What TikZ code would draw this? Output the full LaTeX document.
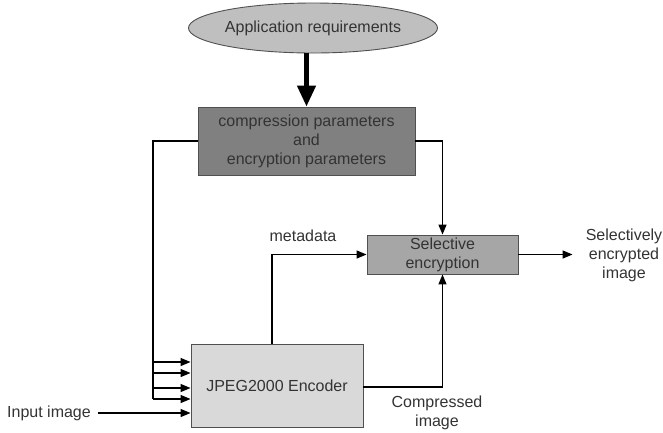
\documentclass[tikz,border=0pt]{standalone}
\usepackage{fontspec}
\setmainfont{Liberation Sans}
\usepackage{tikz}
\usetikzlibrary{arrows.meta,positioning,shapes.geometric}
\definecolor{txtgray}{HTML}{333333}
\definecolor{edgegray}{HTML}{505050}

\begin{document}
\begin{tikzpicture}[x=1pt, y=-1pt,
  every node/.style={font=\fontsize{16}{19}\selectfont, text=txtgray},
  box/.style={draw=edgegray, line width=0.9pt, align=center, inner sep=0pt},
  arr/.style={-{Triangle[length=10pt, width=8pt]}, line width=1.3pt},
  wire/.style={line width=1.3pt},
  lbl/.style={align=center, inner sep=1pt}
]
\useasboundingbox (0,0) rectangle (663,432);

\node[box, ellipse, fill=black!25, minimum width=230pt, minimum height=50pt] (req) at (313,28) {Application requirements};
\node[box, fill=black!50, minimum width=217pt, minimum height=68pt] (params) at (306.5,141) {compression parameters\\and\\encryption parameters};
\node[box, fill=black!35, minimum width=151pt, minimum height=39pt] (sel) at (442.5,254.5) {Selective\\encryption};
\node[box, fill=black!15, minimum width=172pt, minimum height=83pt] (enc) at (277,385.5) {JPEG2000 Encoder};

\node[lbl] (in) at (49,413) {Input image};
\node[lbl] (meta) at (303,236) {metadata};
\node[lbl] (comp) at (437,413) {Compressed\\image};
\node[lbl] (out) at (624,255) {Selectively\\encrypted\\image};

\draw[-{Triangle[length=21pt, width=18pt]}, line width=4.5pt] (params.north |- req.south) -- (params.north);

\coordinate (busbot) at (153,399);
\draw[wire] (params.west) -| (busbot);
\foreach \yy [count=\i] in {362,373,388,399}{
  \coordinate (b\i) at (busbot |- 0,\yy);
  \draw[arr] (b\i) -- (b\i -| enc.west);
}
\draw[arr] ([xshift=6pt]in.east) -- (in.east -| enc.west);

\draw[arr] (params.east) -| (sel.north);
\draw[arr] ([xshift=-5pt]enc.north) |- (sel.west);
\draw[arr] ([yshift=-1.5pt]enc.east) -| (sel.south);
\draw[arr, shorten >=12pt] (sel.east) -- (out.west |- sel.east);
\end{tikzpicture}
\end{document}
